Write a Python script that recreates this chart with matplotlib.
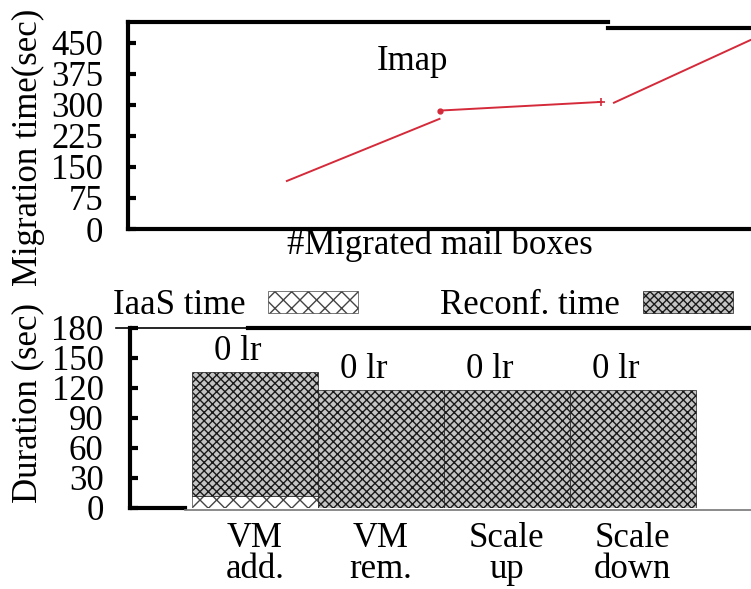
import numpy as np
import matplotlib
matplotlib.use('Agg')
import matplotlib.pyplot as plt
from matplotlib.patches import Patch

plt.rcParams['font.family'] = ['Liberation Serif', 'DejaVu Serif']
plt.rcParams['font.size'] = 25
plt.rcParams['hatch.linewidth'] = 1.0

# top panel: Imap migration time (three scanned line pieces)
imap_x1 = [2.55, 5.0]
imap_y1 = [116, 266]
imap_x2 = [5.0, 7.6]
imap_y2 = [286, 307]
imap_x3 = [7.8, 10.0]
imap_y3 = [305, 457]
top_yticks = [0, 75, 150, 225, 300, 375, 450]

# bottom panel: operation durations
operations = ['VM\nadd.', 'VM\nrem.', 'Scale\nup', 'Scale\ndown']
iaas_time = [12, 0, 0, 0]
reconf_time = [124, 118, 118, 118]
bar_labels = ['0 lr', '0 lr', '0 lr', '0 lr']
bottom_yticks = [0, 30, 60, 90, 120, 150, 180]

W, H = 751, 589
fig = plt.figure(figsize=(W / 100, H / 100), dpi=100)

# ---- top panel
ax1 = fig.add_axes([128 / W, 1 - 229 / H, 623 / W, 207 / H])
ax1.plot(imap_x1, imap_y1, color='#d42a3a', lw=1.4)
ax1.plot(imap_x2, imap_y2, color='#d42a3a', lw=1.4)
ax1.plot(imap_x2[:1], imap_y2[:1], 'o', color='#d42a3a', ms=3.5)
ax1.plot(imap_x2[1:], imap_y2[1:], '+', color='#d42a3a', ms=6, mew=1.2)
ax1.plot(imap_x3, imap_y3, color='#d42a3a', lw=1.4)
ax1.set_xlim(0, 10)
ax1.set_ylim(0, 500)
ax1.set_yticks(top_yticks)
ax1.set_xticks([])
ax1.tick_params(axis='y', direction='in', length=6, width=3, pad=18,
                labelsize=25)
for s in ['right', 'top']:
    ax1.spines[s].set_visible(False)
for s in ['left', 'bottom']:
    ax1.spines[s].set_linewidth(3)
# stepped top frame from the pasted scan
ax1.plot([0, 0.7705], [1, 1], color='black', lw=3, transform=ax1.transAxes,
         clip_on=False)
ax1.plot([0.7705, 1], [0.971, 0.971], color='black', lw=3,
         transform=ax1.transAxes, clip_on=False)
ax1.text(4.57, 404, 'Imap', ha='center', va='center', fontsize=25)
ax1.set_xlabel('#Migrated mail boxes', fontsize=25, labelpad=0)
fig.text(28 / W, 1 - 147 / H, 'Migration time(sec)', rotation=90,
         ha='center', va='center', fontsize=25)

# ---- bottom panel
ax2 = fig.add_axes([130 / W, 1 - 508 / H, 621 / W, 180 / H])
x = np.arange(len(operations))
ax2.bar(x, iaas_time, width=1.0, color='white', edgecolor='#444444',
        hatch='xx', lw=0.5, label='IaaS time')
ax2.bar(x, reconf_time, width=1.0, bottom=iaas_time, color='#c4c4c4',
        edgecolor='#1a1a1a', hatch='xxxx', lw=0.5, label='Reconf. time')
for xi, a, b, t in zip(x, iaas_time, reconf_time, bar_labels):
    ax2.annotate(t, (xi, a + b), xytext=(-12, 3), textcoords='offset points',
                 ha='center', va='bottom', fontsize=25)
ax2.set_xlim(-0.99, 3.94)
ax2.set_ylim(0, 180)
ax2.set_yticks(bottom_yticks)
ax2.set_xticks(x)
ax2.set_xticklabels(operations, fontsize=25, linespacing=0.93)
ax2.tick_params(axis='x', length=0, pad=10)
ax2.tick_params(axis='y', direction='in', length=6, width=3, pad=19,
                labelsize=25)
for s in ['right', 'top', 'bottom']:
    ax2.spines[s].set_visible(False)
ax2.spines['left'].set_linewidth(3)
ax2.plot([0, 0.089], [0, 0], color='black', lw=3, transform=ax2.transAxes,
         clip_on=False)
ax2.plot([0.089, 1], [-0.012, -0.012], color='#777777', lw=1.2,
         transform=ax2.transAxes, clip_on=False)
ax2.plot([-0.022, 0.19], [1, 1], color='black', lw=1.2,
         transform=ax2.transAxes, clip_on=False)
ax2.plot([0.19, 1], [1, 1], color='black', lw=3, transform=ax2.transAxes,
         clip_on=False)
fig.text(28 / W, 1 - 403 / H, 'Duration (sec)', rotation=90,
         ha='center', va='center', fontsize=25)

handles = [Patch(facecolor='white', edgecolor='#444444', hatch='xx', lw=0.5),
           Patch(facecolor='#c4c4c4', edgecolor='#1a1a1a', hatch='xxxx', lw=0.5)]
fig.legend(handles, ['IaaS time', 'Reconf. time'], ncol=2, frameon=False,
           markerfirst=False, loc='center left',
           bbox_to_anchor=(113 / W, 1 - 306 / H), fontsize=25,
           handlelength=2.6, handleheight=0.6, handletextpad=0.65,
           columnspacing=2.35, borderpad=0, borderaxespad=0)

fig.savefig('out.png', dpi=100)
